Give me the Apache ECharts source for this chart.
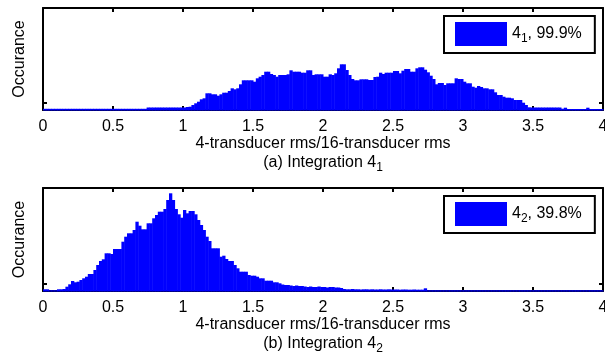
<!DOCTYPE html>
<html>
<head>
<meta charset="utf-8">
<script src="https://cdn.jsdelivr.net/npm/echarts@6/dist/echarts.min.js"></script>
<style>
  html, body { margin: 0; padding: 0; background: #fff; }
  #chart { width: 605px; height: 360px; }
</style>
</head>
<body>
<div id="chart"></div>
<script>
// Histogram bin width along the rms-ratio axis (bins start at 0)
const binWidth = 0.02;

// x-axis tick values
const xTicks = [0, 0.5, 1, 1.5, 2, 2.5, 3, 3.5, 4];

// Occurrence counts per bin, integration 4_1
const counts41 = [
  12, 12, 12, 12, 12, 12, 12, 12, 12, 12, 12, 12, 12, 12, 12, 12, 12, 12, 12, 12,
  12, 12, 12, 12, 12, 12, 12, 12, 12, 12, 12, 12, 12, 12, 12, 12, 12,
  25, 25, 25, 25, 25, 25, 25, 25, 25, 25, 25, 25, 25, 25,
  30, 33, 50, 67, 83, 107, 117, 167, 167, 157, 157, 143, 157, 173, 173, 190, 217, 207, 217, 257,
  297, 297, 297, 297, 283, 317, 333, 350, 383, 383, 360, 350, 333, 350, 350, 350, 357, 397, 383, 383,
  383, 373, 373, 397, 397, 350, 357, 357, 357, 333, 333, 357, 350, 367, 417, 457, 457, 400, 350, 310,
  297, 297, 307, 307, 307, 300, 300, 330, 333, 373, 360, 373, 373, 373, 390, 390, 367, 393, 410, 410,
  383, 383, 417, 427, 427, 403, 377, 343, 310, 257, 270, 270, 250, 267, 267, 267, 317, 310, 310, 283,
  267, 267, 233, 223, 240, 230, 217, 217, 207, 207, 177, 150, 150, 133, 123, 123, 117, 100, 100, 100,
  73, 50, 27,
  25, 25, 25, 25, 25, 25, 25, 25, 25, 25, 25,
  13, 23, 10, 10, 10, 10, 10, 10, 10, 23, 10, 10, 10, 10, 10
];

// Occurrence counts per bin, integration 4_2
const counts42 = [
  17, 17, 7, 7, 7, 17, 17, 20, 43, 67, 100, 87, 93, 110, 127, 143, 170, 170, 210, 260,
  300, 317, 377, 377, 370, 420, 420, 420, 493, 543, 577, 577, 610, 693, 653, 617, 617, 677, 677, 727,
  760, 793, 793, 820, 910, 977, 910, 820, 767, 733, 810, 777, 800, 800, 767, 710, 660, 610, 543, 500,
  427, 427, 427, 343, 353, 320, 300, 300, 260, 227, 193, 193, 193, 160, 153, 153, 143, 127, 127, 103,
  103, 103, 87, 87, 77, 65, 60, 60, 55, 50, 55, 50, 50, 45, 40, 45, 40, 40, 45, 40,
  40, 35, 40, 40, 35, 35, 30,
  20, 17, 17, 20, 17, 17, 15, 17, 17, 15, 17, 15, 15, 17, 15, 15, 17, 15, 15, 15,
  13, 15, 15, 13, 13, 15, 13, 13, 13,
  27,
  7, 7, 7, 7, 7, 7, 7, 7, 7, 7, 7, 7, 7, 7, 7, 7, 7, 7, 7, 7,
  7, 7, 7, 7, 7, 7, 7, 7, 7, 7, 7, 7, 7, 7, 7, 7, 7, 7, 7, 7,
  7, 7, 7, 7, 7, 7, 7, 7, 7, 7, 7, 7, 7, 7, 7, 7, 7, 7, 7, 7, 7, 7, 7
];

// Legend labels and sub-captions
const seriesNames = ['4_1, 99.9%', '4_2, 39.8%'];
const captions = ['(a) Integration 4_1', '(b) Integration 4_2'];
const xLabel = '4-transducer rms/16-transducer rms';
const yLabel = 'Occurance';
const yMax = [1020, 1030];
const yTickValues = [70];

const FONT = '"Liberation Sans", Arial, Helvetica, sans-serif';
const BLUE = '#0000ff';
const TICK_LEN = 4;
const subRich = { sub: { fontSize: 12, fontFamily: FONT, color: '#000', padding: [9, 0, 0, 0] } };
const toRich = s => s.replace(/_(\d)/, '{sub|$1}');

const grids = [
  { left: 43, top: 8, width: 560, height: 102 },
  { left: 43, top: 188, width: 560, height: 103 }
];

// Box frame and inward ticks
const frameLine = { show: true, onZero: false, lineStyle: { color: '#000', width: 2 } };
const tickStyle = { color: '#000', width: 2 };
const xTick = { show: true, inside: true, length: TICK_LEN, customValues: xTicks, lineStyle: tickStyle };
const yTick = { show: true, inside: true, length: TICK_LEN, customValues: yTickValues, lineStyle: tickStyle };

const chart = echarts.init(document.getElementById('chart'), null, { renderer: 'canvas' });

const xAxes = [], yAxes = [], series = [], legends = [], graphics = [];

[counts41, counts42].forEach((counts, k) => {
  xAxes.push({
    gridIndex: k, type: 'value', min: xTicks[0], max: xTicks[xTicks.length - 1], interval: 0.5,
    position: 'bottom',
    axisLine: frameLine,
    axisTick: xTick,
    axisLabel: { margin: 9, color: '#000', fontSize: 16, fontFamily: FONT, showMaxLabel: true, showMinLabel: true },
    splitLine: { show: false },
    name: xLabel, nameLocation: 'middle', nameGap: 25,
    nameTextStyle: { color: '#000', fontSize: 16, fontFamily: FONT }
  });
  xAxes.push({
    gridIndex: k, type: 'value', min: xTicks[0], max: xTicks[xTicks.length - 1], interval: 0.5,
    position: 'top',
    axisLine: frameLine,
    axisTick: xTick,
    axisLabel: { show: false },
    splitLine: { show: false }
  });
  yAxes.push({
    gridIndex: k, type: 'value', min: 0, max: yMax[k], position: 'left',
    axisLine: frameLine,
    axisTick: yTick,
    axisLabel: { show: false },
    splitLine: { show: false },
    name: yLabel, nameLocation: 'middle', nameGap: 15, nameRotate: 90,
    nameTextStyle: { color: '#000', fontSize: 16, fontFamily: FONT }
  });
  yAxes.push({
    gridIndex: k, type: 'value', min: 0, max: yMax[k], position: 'right',
    axisLine: frameLine,
    axisTick: yTick,
    axisLabel: { show: false },
    splitLine: { show: false }
  });

  series.push({
    type: 'custom',
    name: seriesNames[k],
    xAxisIndex: 2 * k,
    yAxisIndex: 2 * k,
    z: 5,
    itemStyle: { color: BLUE },
    encode: { x: [0, 1], y: 2 },
    data: counts.map((c, i) => [i * binWidth, (i + 1) * binWidth, c]),
    renderItem: (params, api) => {
      const p0 = api.coord([api.value(0), api.value(2)]);
      const p1 = api.coord([api.value(1), 0]);
      return {
        type: 'rect',
        shape: { x: p0[0], y: p0[1], width: p1[0] - p0[0] + 0.5, height: p1[1] - p0[1] + 0.5 },
        style: { fill: BLUE }
      };
    }
  });

  legends.push({
    data: [seriesNames[k]],
    left: 444, top: grids[k].top + 8,
    orient: 'horizontal',
    icon: 'rect', itemWidth: 52, itemHeight: 24,
    padding: [6, 13, 7, 11],
    borderColor: '#000', borderWidth: 2, borderRadius: 0,
    backgroundColor: '#fff',
    selectedMode: false,
    formatter: name => toRich(name),
    textStyle: { color: '#000', fontSize: 16, fontFamily: FONT, rich: subRich }
  });

  graphics.push({
    type: 'text',
    x: grids[k].left + grids[k].width / 2,
    y: grids[k].top + grids[k].height + 53,
    style: {
      text: toRich(captions[k]),
      fill: '#000', fontSize: 16, fontFamily: FONT,
      align: 'center', verticalAlign: 'middle',
      rich: subRich
    }
  });
});

chart.setOption({
  animation: false,
  backgroundColor: '#fff',
  grid: grids.map(g => Object.assign({
    show: false, containLabel: false, outerBoundsMode: 'none'
  }, g)),
  xAxis: xAxes,
  yAxis: yAxes,
  legend: legends,
  series: series,
  graphic: graphics
});
</script>
</body>
</html>
